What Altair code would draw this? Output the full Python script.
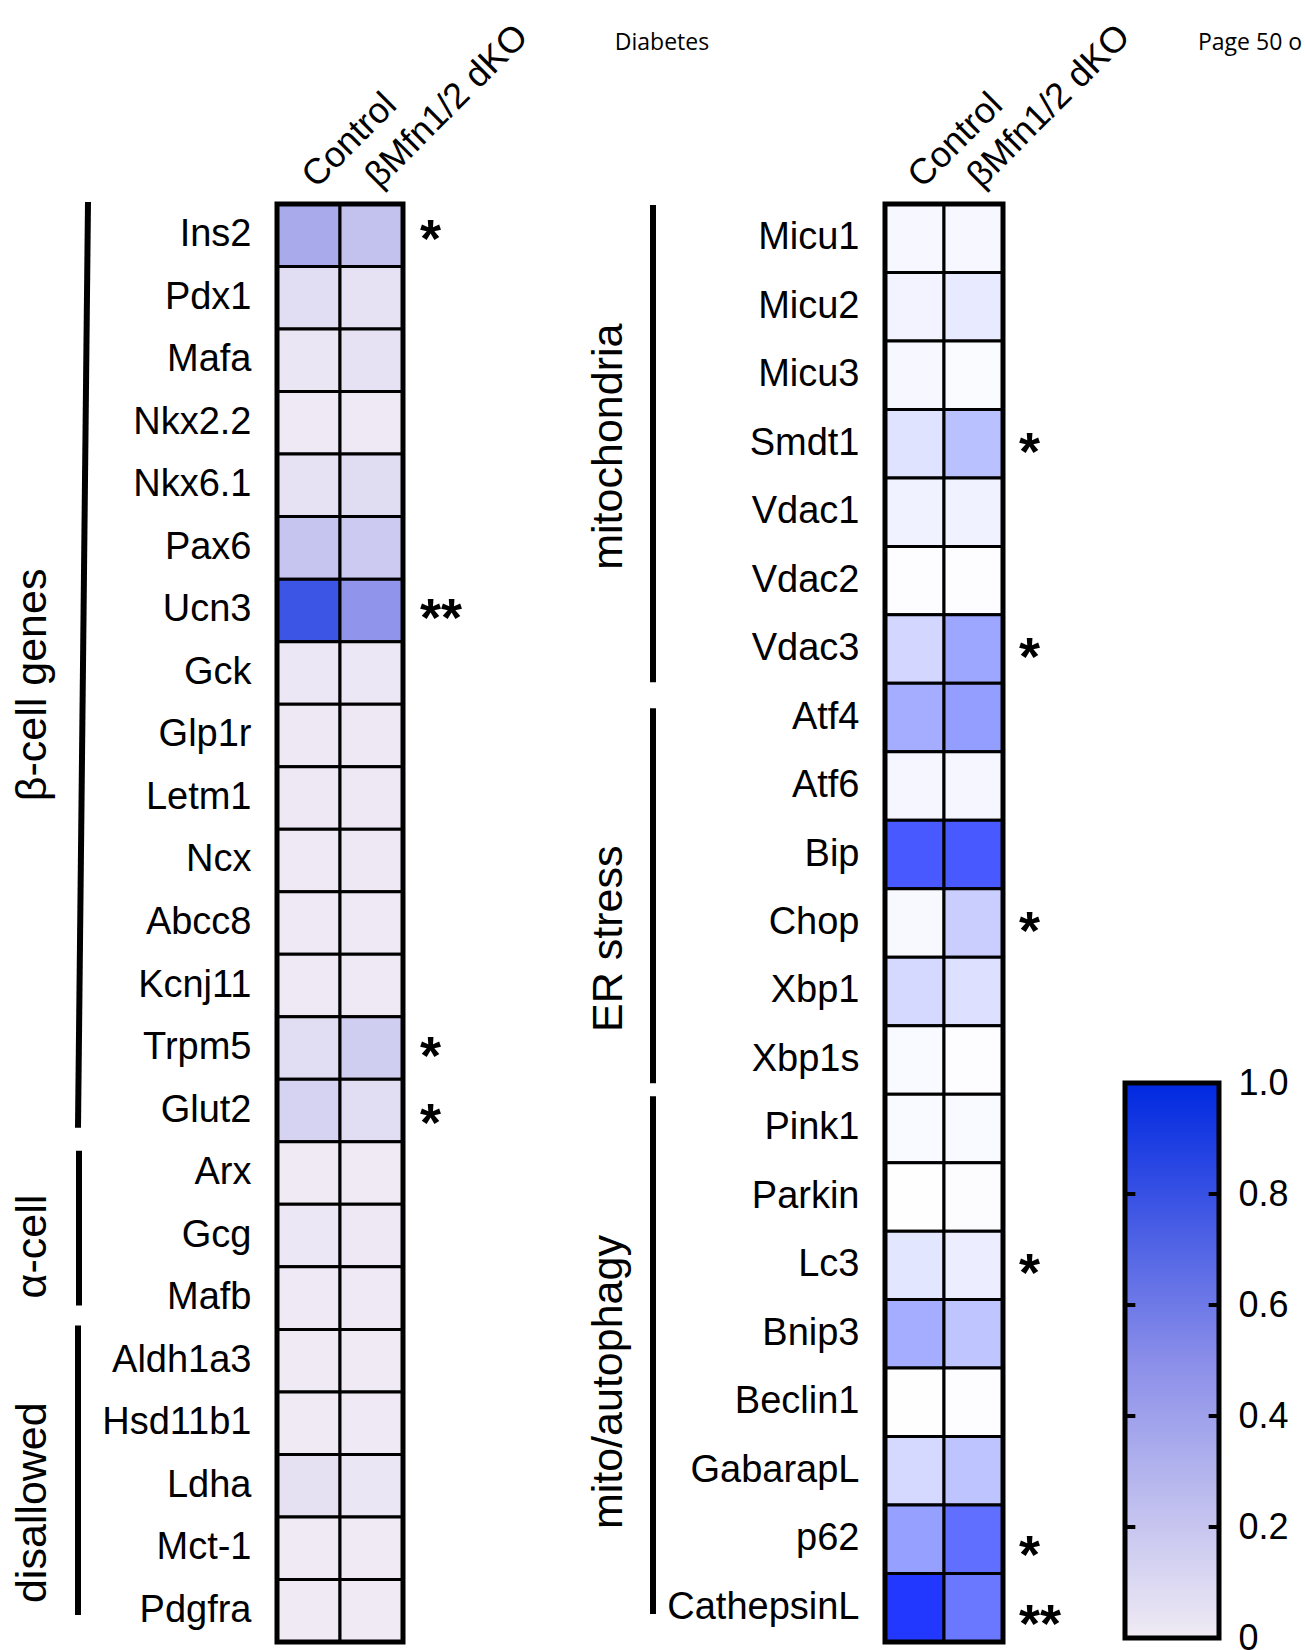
import altair as alt
import pandas as pd

FONT = "Liberation Sans"
HEADER_FONT = "Open Sans"

conditions = ["Control", "βMfn1/2 dKO"]

# ---- islet identity / disallowed genes -------------------------------------
left_genes = ["Ins2", "Pdx1", "Mafa", "Nkx2.2", "Nkx6.1", "Pax6", "Ucn3", "Gck",
              "Glp1r", "Letm1", "Ncx", "Abcc8", "Kcnj11", "Trpm5", "Glut2",
              "Arx", "Gcg", "Mafb",
              "Aldh1a3", "Hsd11b1", "Ldha", "Mct-1", "Pdgfra"]
left_control = [0.35, 0.074, 0.025, 0.01, 0.05, 0.206, 0.78, 0.02,
                0.015, 0.015, 0.01, 0.01, 0.01, 0.074, 0.13,
                0.005, 0.02, 0.01,
                0.005, 0.005, 0.054, 0.005, 0.005]
left_dko = [0.22, 0.05, 0.05, 0.01, 0.078, 0.176, 0.47, 0.02,
            0.015, 0.015, 0.015, 0.012, 0.01, 0.16, 0.074,
            0.005, 0.015, 0.01,
            0.005, 0.01, 0.025, 0.005, 0.005]
left_sig = {"Ins2": "*", "Ucn3": "**", "Trpm5": "*", "Glut2": "*"}
left_groups = [("β-cell genes", "Ins2", "Glut2"),
               ("α-cell", "Arx", "Mafb"),
               ("disallowed", "Aldh1a3", "Pdgfra")]

# ---- mitochondria / ER stress / autophagy genes -----------------------------
right_genes = ["Micu1", "Micu2", "Micu3", "Smdt1", "Vdac1", "Vdac2", "Vdac3",
               "Atf4", "Atf6", "Bip", "Chop", "Xbp1", "Xbp1s",
               "Pink1", "Parkin", "Lc3", "Bnip3", "Beclin1", "GabarapL", "p62",
               "CathepsinL"]
right_control = [0.033, 0.053, 0.033, 0.127, 0.061, 0.008, 0.18,
                 0.37, 0.04, 0.75, 0.03, 0.17, 0.024,
                 0.024, 0.004, 0.114, 0.37, 0.004, 0.17, 0.43, 0.90]
right_dko = [0.033, 0.094, 0.02, 0.28, 0.061, 0.008, 0.40,
             0.44, 0.04, 0.75, 0.22, 0.14, 0.008,
             0.024, 0.012, 0.078, 0.26, 0.008, 0.265, 0.65, 0.61]
right_sig = {"Smdt1": "*", "Vdac3": "*", "Chop": "*", "Lc3": "*",
             "p62": "*", "CathepsinL": "**"}
right_groups = [("mitochondria", "Micu1", "Vdac3"),
                ("ER stress", "Atf4", "Xbp1s"),
                ("mito/autophagy", "Pink1", "CathepsinL")]

legend_values = [0, 0.2, 0.4, 0.6, 0.8, 1.0]
legend_inner_ticks = [0.2, 0.4, 0.6, 0.8]

page_header = "Diabetes"
page_number = "Page 50 o"

# ---- colour palettes ---------------------------------------------------------
LEFT_PALETTE = {"domain": [0, 0.5, 1], "range": ["#f0ebf4", "#8a8ee9", "#0028e0"]}
RIGHT_PALETTE = {"domain": [0, 1], "range": ["#ffffff", "#0a22ff"]}

PANEL_H = 1438
LEFT_W = 126
RIGHT_W = 118
LEGEND_W = 94
GAP = 122
SPACER_W = 238
HEADER_Y = -161

LEFT_STYLE = {
    "bracket_x": {"β-cell genes": (-189, -199), "α-cell": (-198, -198), "disallowed": (-199, -199)},
    "bracket_trim": {"β-cell genes": (-2, 14), "α-cell": (9, 24), "disallowed": (-4, 27)},
    "label_x": -244,
    "label_shift": {"β-cell genes": 12, "α-cell": 11, "disallowed": 17},
    "star_dx": 17,
    "star_shift": {"Ins2": -4, "Glut2": 4},
}
RIGHT_STYLE = {
    "bracket_x": {"mitochondria": (-232, -232), "ER stress": (-232, -232), "mito/autophagy": (-232, -232)},
    "bracket_trim": {"mitochondria": (1, 1), "ER stress": (25, 11), "mito/autophagy": (2, 28)},
    "label_x": -276,
    "label_shift": {"mitochondria": 3, "ER stress": 50, "mito/autophagy": 14},
    "star_dx": 16,
    "star_shift": {"p62": 8, "CathepsinL": 8},
}


def heat_panel(genes, control, dko, sig, groups, palette, width, height, style):
    n = len(genes)
    row_h = height / n
    rows = alt.Scale(domain=[0, n], reverse=True, nice=False, zero=False)

    cells = pd.DataFrame({
        "gene": genes * 2,
        "condition": [conditions[0]] * n + [conditions[1]] * n,
        "value": list(control) + list(dko),
    })
    heat = alt.Chart(cells).mark_rect(stroke="black", strokeWidth=3).encode(
        x=alt.X("condition:N", sort=conditions,
                scale=alt.Scale(domain=conditions, paddingInner=0, paddingOuter=0),
                axis=alt.Axis(orient="top", title=None, labelAngle=315, labelAlign="left",
                              labelBaseline="middle", labelFontSize=36, labelPadding=23,
                              ticks=False, tickSize=0, domain=False, labelLimit=400)),
        y=alt.Y("gene:N", sort=genes,
                scale=alt.Scale(domain=genes, paddingInner=0, paddingOuter=0),
                axis=alt.Axis(title=None, labelFontSize=38, labelPadding=26, ticks=False,
                              tickSize=0, domain=False, labelLimit=400)),
        color=alt.Color("value:Q", legend=None,
                        scale=alt.Scale(domain=palette["domain"], range=palette["range"],
                                        interpolate="rgb")),
    )

    # heavy outer frame around the grid
    frame = alt.Chart(pd.DataFrame({"b0": [0], "b1": [n]})).mark_rect(
        fillOpacity=0, stroke="black", strokeWidth=5
    ).encode(
        x=alt.value(0), x2=alt.value(width),
        y=alt.Y("b0:Q", scale=rows, axis=None), y2="b1:Q",
    )

    # significance marks beside the rows
    stars_df = pd.DataFrame({
        "pos": [genes.index(g) + 0.5 + style["star_shift"].get(g, 0) / row_h for g in sig],
        "mark": list(sig.values()),
    })
    stars = alt.Chart(stars_df).mark_text(
        font=FONT, fontSize=54, fontWeight="bold", align="left", baseline="middle",
        dy=10, color="black"
    ).encode(
        x=alt.value(width + style["star_dx"]),
        y=alt.Y("pos:Q", scale=rows, axis=None),
        text="mark:N",
    )

    # group brackets and their rotated names
    br = []
    for name, first, last in groups:
        i0 = genes.index(first)
        i1 = genes.index(last) + 1
        t0, t1 = style["bracket_trim"][name]
        xa, xb = style["bracket_x"][name]
        br.append({
            "group": name,
            "y0": i0 + t0 / row_h,
            "y1": i1 - t1 / row_h,
            "xa": xa, "xb": xb,
            "mid": (i0 + i1) / 2 + style["label_shift"][name] / row_h,
        })
    br_df = pd.DataFrame(br)

    brackets = alt.Chart(br_df).mark_rule(color="black", strokeWidth=6, strokeCap="butt").encode(
        x=alt.X("xa:Q", scale=None, axis=None), x2="xb:Q",
        y=alt.Y("y0:Q", scale=rows, axis=None), y2="y1:Q",
    )
    names = alt.Chart(br_df).mark_text(
        font=FONT, fontSize=43, angle=270, align="center", baseline="middle", color="black"
    ).encode(
        x=alt.value(style["label_x"]),
        y=alt.Y("mid:Q", scale=rows, axis=None),
        text="group:N",
    )

    return alt.layer(heat, frame, stars, brackets, names).resolve_scale(
        x="independent", y="independent"
    ).properties(width=width, height=height)


left_panel = heat_panel(left_genes, left_control, left_dko, left_sig, left_groups,
                        LEFT_PALETTE, LEFT_W, PANEL_H, LEFT_STYLE)
right_panel = heat_panel(right_genes, right_control, right_dko, right_sig, right_groups,
                         RIGHT_PALETTE, RIGHT_W, PANEL_H, RIGHT_STYLE)

# running header of the page
spacer = alt.Chart(pd.DataFrame({"t": [page_header]})).mark_text(
    font=HEADER_FONT, fontSize=23, align="center", baseline="middle", color="black"
).encode(
    x=alt.value(137), y=alt.value(HEADER_Y), text="t:N"
).properties(width=SPACER_W, height=PANEL_H)

# ---- colour bar --------------------------------------------------------------
legend_x = alt.Scale(domain=[0, 1], nice=False, zero=False)
legend_y = alt.Scale(domain=[0, 1], range=[1434, 879], nice=False, zero=False)

gradient = alt.Gradient(
    gradient="linear",
    stops=[alt.GradientStop(color=c, offset=o)
           for c, o in zip(LEFT_PALETTE["range"], LEFT_PALETTE["domain"])],
    x1=0, x2=0, y1=1, y2=0,
)
bar = alt.Chart(pd.DataFrame({"lo": [0.0], "hi": [1.0], "x0": [0.0], "x1": [1.0]})).mark_rect(
    fill=gradient, stroke="black", strokeWidth=5
).encode(
    x=alt.X("x0:Q", scale=legend_x, axis=None), x2="x1:Q",
    y=alt.Y("lo:Q", scale=legend_y,
            axis=alt.Axis(orient="right", values=legend_values, title=None, ticks=False,
                          tickSize=0, domain=False, grid=False, labelFontSize=36,
                          labelPadding=19, labelFlush=False,
                          labelExpr="datum.value == 0 ? '0' : format(datum.value, '.1f')")),
    y2="hi:Q",
)

TICK_LEN = 0.11
tick_rows = []
for v in legend_inner_ticks:
    tick_rows.append({"v": v, "xa": 0.0, "xb": TICK_LEN})
    tick_rows.append({"v": v, "xa": 1.0 - TICK_LEN, "xb": 1.0})
bar_ticks = alt.Chart(pd.DataFrame(tick_rows)).mark_rule(color="black", strokeWidth=4).encode(
    x=alt.X("xa:Q", scale=legend_x, axis=None), x2="xb:Q",
    y=alt.Y("v:Q", scale=legend_y),
)

page_no = alt.Chart(pd.DataFrame({"t": [page_number]})).mark_text(
    font=HEADER_FONT, fontSize=23, align="left", baseline="middle", color="black"
).encode(
    x=alt.value(73), y=alt.value(HEADER_Y), text="t:N"
)

legend_panel = alt.layer(bar, bar_ticks, page_no).properties(width=LEGEND_W, height=PANEL_H)

chart = alt.hconcat(
    left_panel, spacer, right_panel, legend_panel, spacing=GAP, bounds="flush"
).resolve_scale(
    color="independent", x="independent", y="independent"
).properties(
    padding={"left": 11, "top": 17, "right": 0, "bottom": 5},
    background="white",
).configure_view(
    strokeWidth=0
).configure_axis(
    labelColor="black", labelFont=FONT, grid=False
)

chart.save("out.html", embed_options={"renderer": "svg", "actions": False})
